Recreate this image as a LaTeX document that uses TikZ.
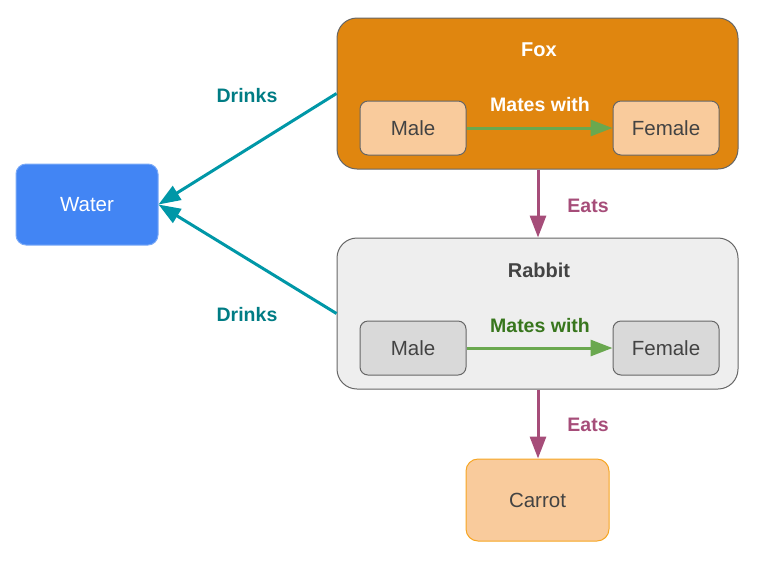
\documentclass[tikz,border=0pt]{standalone}
\usepackage{fontspec}
\setmainfont{Liberation Sans}
\usetikzlibrary{arrows.meta}
\definecolor{foxfill}{HTML}{E0860F}
\definecolor{peach}{HTML}{F9CB9C}
\definecolor{boxline}{HTML}{666666}
\definecolor{rabbitfill}{HTML}{EEEEEE}
\definecolor{inner}{HTML}{D9D9D9}
\definecolor{waterblue}{HTML}{4285F4}
\definecolor{carrotline}{HTML}{F6A623}
\definecolor{eatcol}{HTML}{A64D79}
\definecolor{drinkline}{HTML}{0097A7}
\definecolor{drinktext}{HTML}{007C84}
\definecolor{mateline}{HTML}{6AA84F}
\definecolor{matetext}{HTML}{38761D}
\definecolor{darktext}{HTML}{434343}
\tikzset{
  bigbox/.style={draw=boxline, line width=1pt, rounded corners=20pt, minimum width=401pt, minimum height=151pt, inner sep=0pt},
  smallbox/.style={draw=boxline, line width=1pt, rounded corners=8pt, minimum width=106pt, minimum height=54pt, inner sep=0pt, font=\fontsize{20.5}{24}\selectfont, text=darktext},
  title/.style={font=\fontsize{20}{24}\selectfont\bfseries, inner sep=0pt},
  lbl/.style={font=\fontsize{19.5}{24}\selectfont\bfseries, inner sep=0pt},
  conn/.style={line width=3pt, -{Triangle[length=22pt,width=16pt]}},
}
\begin{document}
\begin{tikzpicture}[x=1pt,y=-1pt]
\useasboundingbox (0,0) rectangle (759,566);
% Fox
\node[bigbox, fill=foxfill] (fox) at (537.5,93.5) {};
\node[title, text=white] (foxt) at (539,50) {Fox};
\node[smallbox, fill=peach] (fm) at (413,128) {Male};
\node[smallbox, fill=peach] (ff) at (666,128) {Female};
\draw[conn, mateline] (fm) -- (ff);
\node[lbl, text=white] (fml) at (540,105) {Mates with};
% Rabbit
\node[bigbox, fill=rabbitfill] (rab) at (537.5,313.5) {};
\node[title, text=darktext] (rabt) at (539,270) {Rabbit};
\node[smallbox, fill=inner] (rm) at (413,348) {Male};
\node[smallbox, fill=inner] (rf) at (666,348) {Female};
\draw[conn, mateline] (rm) -- (rf);
\node[lbl, text=matetext] (rml) at (540,326) {Mates with};
% Water
\node[draw=waterblue!70!white, line width=1pt, fill=waterblue, rounded corners=10pt, minimum width=142pt, minimum height=81pt, inner sep=0pt, text=white, font=\fontsize{20.5}{24}\selectfont] (water) at (87,204.5) {Water};
% Carrot
\node[draw=carrotline, line width=1pt, fill=peach, rounded corners=12pt, minimum width=143pt, minimum height=82pt, inner sep=0pt, text=darktext, font=\fontsize{20.5}{24}\selectfont] (carrot) at (537.5,500) {Carrot};
% Eats
\draw[conn, eatcol] (fox.south -| 538,0) -- (rab.north -| 538,0);
\node[lbl, text=eatcol] (e1) at (588,206) {Eats};
\draw[conn, eatcol] (rab.south -| 538,0) -- (carrot.north -| 538,0);
\node[lbl, text=eatcol] (e2) at (588,425) {Eats};
% Drinks
\draw[conn, drinkline] (fox.west) -- (water.east);
\draw[conn, drinkline] (rab.west) -- (water.east);
\node[lbl, text=drinktext] (d1) at (247,96) {Drinks};
\node[lbl, text=drinktext] (d2) at (247,315) {Drinks};
\end{tikzpicture}
\end{document}
